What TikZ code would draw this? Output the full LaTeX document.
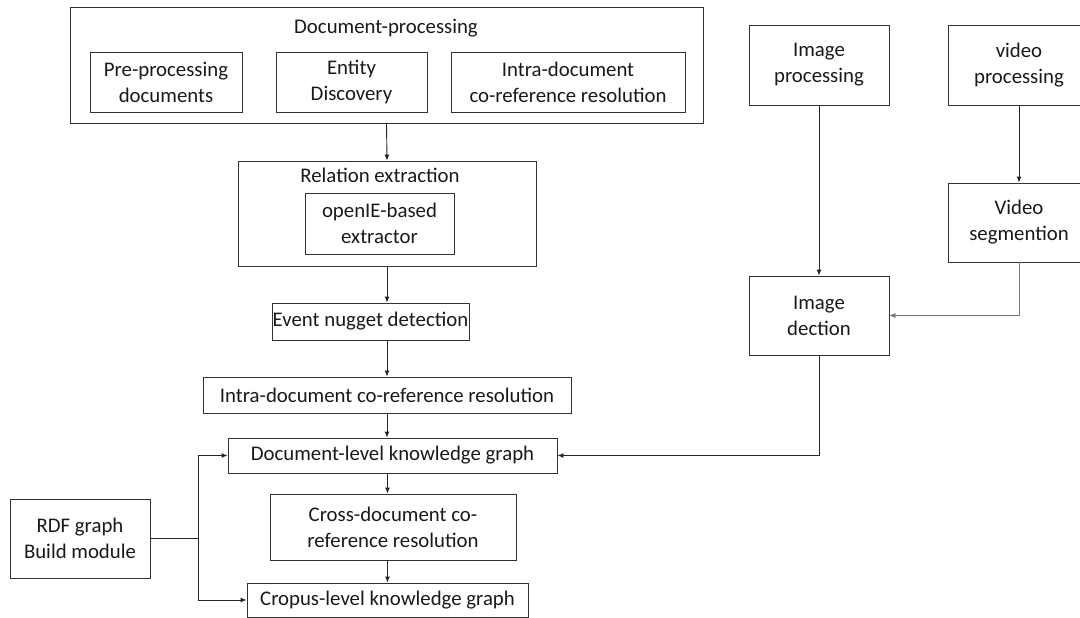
\documentclass[tikz,border=0pt]{standalone}
\usepackage{fontspec}
\setmainfont{Carlito}
\usetikzlibrary{arrows.meta}
\tikzset{
  box/.style={draw=black!80, line width=0.9pt, align=center, inner sep=0pt},
  conn/.style={draw=black!85, line width=0.9pt, -{Latex[length=6pt,width=5pt]}},
}
\begin{document}
\begin{tikzpicture}[x=1pt, y=-1pt, font=\fontsize{20.8}{26}\selectfont, text=black!90]
\clip (0,0) rectangle (1080,618);
% document side
\node[box, minimum width=633pt, minimum height=116pt] (docproc) at (386.5,65) {};
\node (doctitle) at (386,28) {Document-processing};
\node[box, minimum width=152pt, minimum height=60pt] (pre) at (166,82) {Pre-processing\\documents};
\node[box, minimum width=151pt, minimum height=60pt] (entity) at (351.5,82) {Entity\\Discovery};
\node[box, minimum width=234pt, minimum height=60pt] (intradoc) at (568,82) {Intra-document\\co-reference resolution};
\node[box, minimum width=298pt, minimum height=105pt] (relation) at (387,213.5) {};
\node (reltitle) at (380,175) {Relation extraction};
\node[box, minimum width=149pt, minimum height=61pt] (openie) at (379.5,223.5) {openIE-based\\extractor};
\node[box, minimum width=197pt, minimum height=37pt] (event) at (370.5,321.5) {Event nugget detection};
\node[box, minimum width=368pt, minimum height=36pt] (coref) at (387,395) {Intra-document co-reference resolution};
\node[box, minimum width=329pt, minimum height=35pt] (doclevel) at (392.5,455.5) {Document-level knowledge graph};
\node[box, minimum width=246pt, minimum height=66pt] (cross) at (393,527) {Cross-document co-\\reference resolution};
\node[box, minimum width=281pt, minimum height=34pt] (corpus) at (387.5,600) {Cropus-level knowledge graph};
\node[box, minimum width=140pt, minimum height=79pt] (rdf) at (80,538.5) {RDF graph\\Build module};
% image and video side
\node[box, minimum width=140pt, minimum height=80pt] (imgproc) at (819,65) {Image\\processing};
\node[box, minimum width=142pt, minimum height=80pt] (vidproc) at (1019,65) {video\\processing};
\node[box, minimum width=140pt, minimum height=79pt] (imgdet) at (819,315.5) {Image\\dection};
\node[box, minimum width=142pt, minimum height=79pt] (vidseg) at (1019,222.5) {Video\\segmention};
\coordinate (split) at (198,538.5);
% connectors
\draw[conn] (docproc.south) -- (relation.north);
\draw[conn] (relation.south) -- (relation.south |- event.north);
\draw[conn] (coref.north |- event.south) -- (coref.north);
\draw[conn] (coref.south) -- (coref.south |- doclevel.north);
\draw[conn] (doclevel.south -| corpus.north) -- (cross.north -| corpus.north);
\draw[conn] (cross.south -| corpus.north) -- (corpus.north);
\draw[draw=black!85, line width=0.9pt] (rdf.east) -- (split);
\draw[conn] (split) |- (doclevel.west);
\draw[conn] (split) |- (corpus.west);
\draw[conn] (imgproc.south) -- (imgdet.north);
\draw[conn] (vidproc.south) -- (vidseg.north);
\draw[conn, draw=black!55, line width=0.5pt] (vidseg.south) |- (imgdet.east);
\draw[conn] (imgdet.south) |- (doclevel.east);
\end{tikzpicture}
\end{document}
